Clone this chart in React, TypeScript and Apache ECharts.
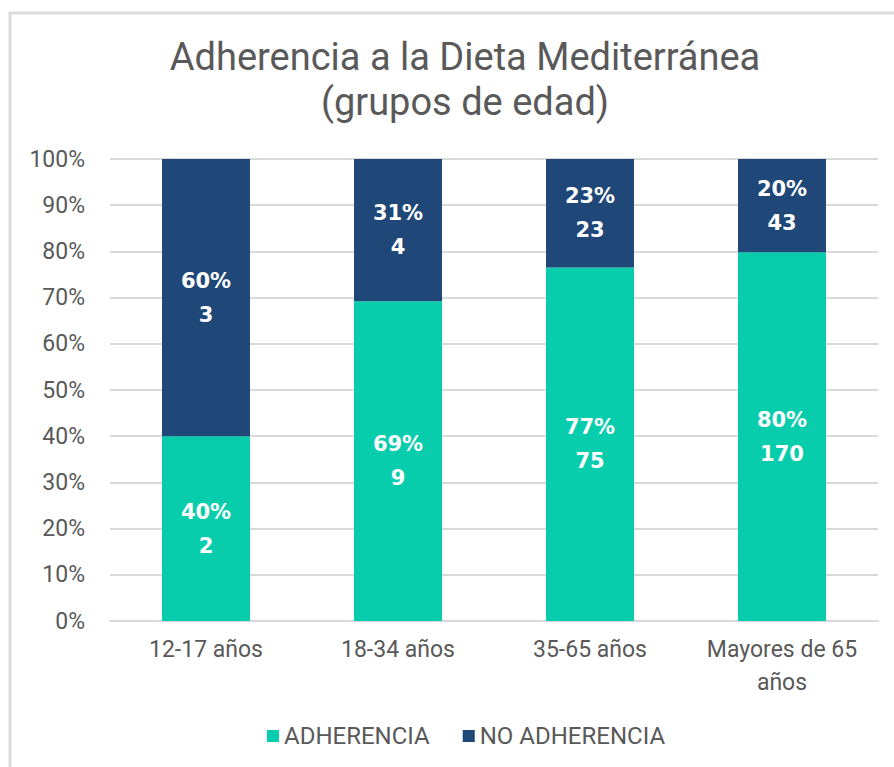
import React, { useEffect, useRef } from "react";
import * as echarts from "echarts";

const categories = ["12-17 años", "18-34 años", "35-65 años", "Mayores de 65 años"];
const adherenciaCounts = [2, 9, 75, 170];
const noAdherenciaCounts = [3, 4, 23, 43];
const yTicks = [0, 10, 20, 30, 40, 50, 60, 70, 80, 90, 100];

const TEAL = "#08CDAD";
const NAVY = "#1F4778";
const GRAY = "#595959";

export default function App() {
  const ref = useRef<HTMLDivElement>(null);
  useEffect(() => {
    document.body.style.margin = "0";
    if (!ref.current) return;
    const chart = echarts.init(ref.current, undefined, { renderer: "svg" });
    const totals = categories.map((_, i) => adherenciaCounts[i] + noAdherenciaCounts[i]);
    const adhPct = adherenciaCounts.map((c, i) => (c / totals[i]) * 100);
    const noPct = noAdherenciaCounts.map((c, i) => (c / totals[i]) * 100);
    const label = (counts: number[]) => ({
      show: true,
      position: "inside",
      color: "#ffffff",
      fontFamily: "DejaVu Sans",
      fontWeight: "bold",
      fontSize: 21,
      lineHeight: 34,
      formatter: (p: any) => `${Math.round(p.value)}%\n${counts[p.dataIndex]}`,
    });
    chart.setOption({
      animation: false,
      textStyle: { fontFamily: "Roboto" },
      graphic: [
        {
          type: "rect",
          shape: { x: 10, y: 13, width: 920, height: 800 },
          style: { fill: "none", stroke: "#DCDCDC", lineWidth: 3 },
        },
      ],
      title: {
        text: "Adherencia a la Dieta Mediterránea\n(grupos de edad)",
        left: 460,
        top: 29,
        textAlign: "center",
        textStyle: {
          fontFamily: "Roboto",
          fontWeight: "normal",
          fontSize: 38,
          lineHeight: 45,
          color: GRAY,
        },
      },
      legend: {
        left: 262,
        top: 719,
        itemWidth: 12,
        itemHeight: 12,
        itemGap: 33,
        icon: "rect",
        textStyle: { fontFamily: "Roboto", fontSize: 24, color: GRAY },
        data: ["ADHERENCIA", "NO ADHERENCIA"],
      },
      grid: { left: 110, right: 16, top: 159, bottom: 146, containLabel: false },
      xAxis: {
        type: "category",
        data: categories,
        axisTick: { show: false },
        axisLine: { lineStyle: { color: "#D9D9D9", width: 2 } },
        axisLabel: {
          color: GRAY,
          fontSize: 23,
          lineHeight: 33,
          margin: 12,
          interval: 0,
          formatter: (v: string) => v.replace("de 65 ", "de 65\n"),
        },
      },
      yAxis: {
        type: "value",
        min: 0,
        max: 100,
        interval: 10,
        axisLine: { show: false },
        axisTick: { show: false },
        splitLine: { lineStyle: { color: "#D9D9D9", width: 2 } },
        axisLabel: {
          color: GRAY,
          fontSize: 23,
          margin: 25,
          formatter: (v: number) => (yTicks.includes(v) ? `${v}%` : ""),
        },
      },
      series: [
        {
          name: "ADHERENCIA",
          type: "bar",
          stack: "total",
          barWidth: 88,
          itemStyle: { color: TEAL },
          label: label(adherenciaCounts),
          data: adhPct,
        },
        {
          name: "NO ADHERENCIA",
          type: "bar",
          stack: "total",
          barWidth: 88,
          itemStyle: { color: NAVY },
          label: label(noAdherenciaCounts),
          data: noPct,
        },
      ],
    });
    return () => chart.dispose();
  }, []);
  return <div ref={ref} style={{ width: 894, height: 767 }} />;
}
